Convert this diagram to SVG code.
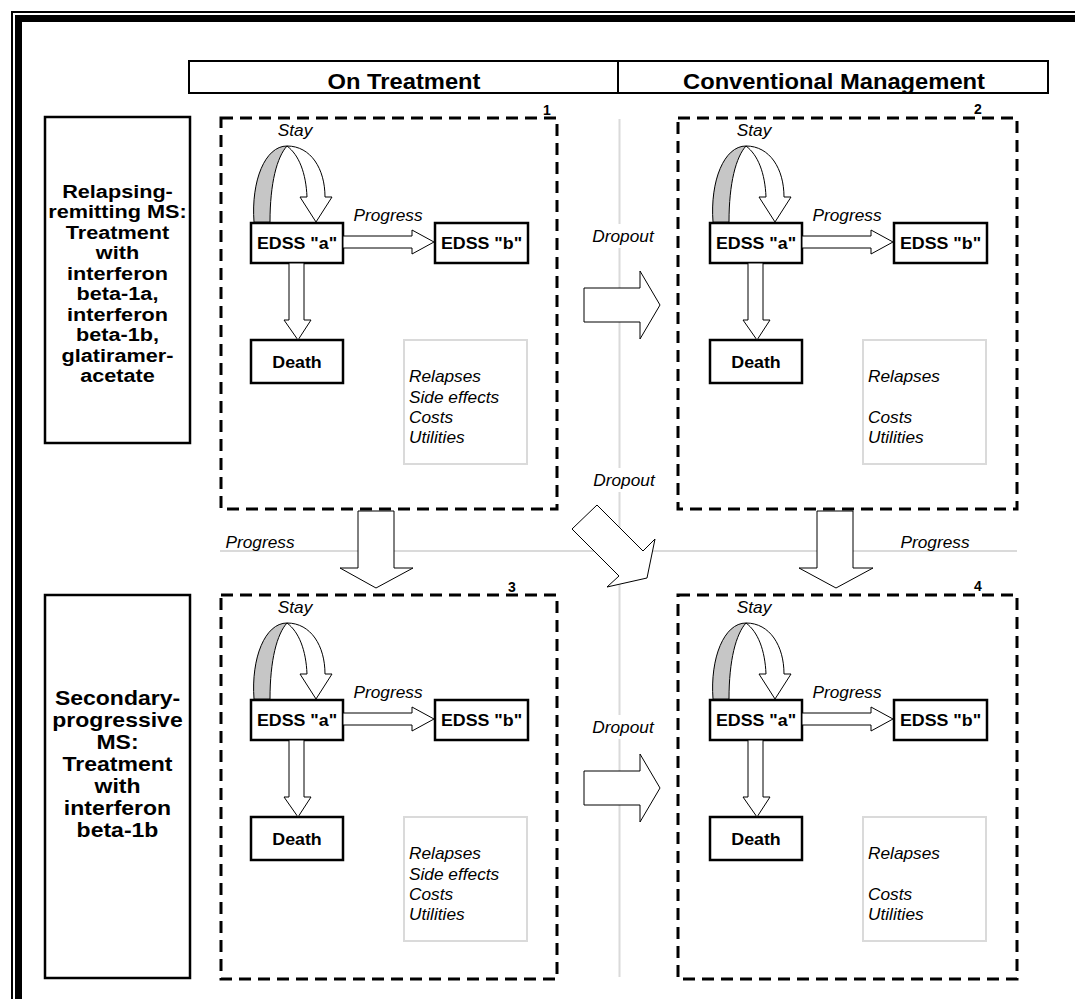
<svg xmlns="http://www.w3.org/2000/svg" xmlns:xlink="http://www.w3.org/1999/xlink" width="1075" height="999" viewBox="0 0 1075 999">
<style>
text{font-family:"Liberation Sans",Arial,sans-serif;fill:#000}
.hb{font-weight:bold;font-size:22px;text-anchor:middle}
.lb{font-weight:bold;font-size:19px;text-anchor:middle}
.lb2{font-weight:bold;font-size:20px;text-anchor:middle}
.nb{font-weight:bold;font-size:16.5px;text-anchor:middle}
.num{font-weight:bold;font-size:14px;text-anchor:middle}
.it{font-style:italic;font-size:16px}
.itm{font-style:italic;font-size:16px;text-anchor:middle}
.box{fill:#fff;stroke:#000;stroke-width:2.5}
.lbox{fill:#fff;stroke:#000;stroke-width:2.5}
.dash{fill:none;stroke:#000;stroke-width:3;stroke-dasharray:12 7}
.blk{fill:#fff;stroke:#000;stroke-width:1;stroke-linejoin:miter}
.gray{fill:#c6c6c6;stroke:#000;stroke-width:1}
.guide{fill:none;stroke:#dadada;stroke-width:2}
.info{fill:#fff;stroke:#dadada;stroke-width:2}
.frame{fill:none;stroke:#000}
</style>
<defs>
<g id="stayArrow">
<path class="gray" d="M3,-1 C0,-42 14,-77 36,-77 C26,-66 19,-40 19,-1 Z"/>
<path class="blk" d="M36,-77 C60,-77 74,-54 74,-26 L81,-26 L65,-1 L49,-26 L56,-26 C55,-50 48,-68 36,-77 Z"/>
</g>
<polygon id="progArrow" class="blk" points="92,13 161,13 161,7 183,19 161,31 161,25 92,25"/>
<polygon id="deathArrow" class="blk" points="38,40 53,40 53,97 60,97 47,117 33,97 38,97"/>
</defs>
<rect width="1075" height="999" fill="#fff"/>

<g id="frame">
<path class="frame" stroke-width="2" d="M12,999 V12 H1075"/>
<path class="frame" stroke-width="7" d="M18.5,999 V18.5 H1075"/>
</g>

<g id="header">
<rect x="189" y="61" width="859" height="32" fill="#fff" stroke="#000" stroke-width="2"/>
<line x1="618" y1="61" x2="618" y2="93" stroke="#000" stroke-width="2"/>
<text class="hb" transform="translate(404,89) scale(1.08,1)">On Treatment</text>
<text class="hb" transform="translate(834,89) scale(1.08,1)">Conventional Management</text>
</g>

<g id="label-rrms">
<rect class="lbox" x="45" y="117" width="145" height="326"/>
<text class="lb" transform="translate(117.5,198) scale(1.14,1)"><tspan x="0" y="0">Relapsing-</tspan><tspan x="0" dy="20.5">remitting MS:</tspan><tspan x="0" dy="20.5">Treatment</tspan><tspan x="0" dy="20.5">with</tspan><tspan x="0" dy="20.5">interferon</tspan><tspan x="0" dy="20.5">beta-1a,</tspan><tspan x="0" dy="20.5">interferon</tspan><tspan x="0" dy="20.5">beta-1b,</tspan><tspan x="0" dy="20.5">glatiramer-</tspan><tspan x="0" dy="20.5">acetate</tspan></text>
</g>

<g id="label-spms">
<rect class="lbox" x="45" y="595" width="145" height="383"/>
<text class="lb2" transform="translate(117.5,705) scale(1.15,1)"><tspan x="0" y="0">Secondary-</tspan><tspan x="0" dy="22">progressive</tspan><tspan x="0" dy="22">MS:</tspan><tspan x="0" dy="22">Treatment</tspan><tspan x="0" dy="22">with</tspan><tspan x="0" dy="22">interferon</tspan><tspan x="0" dy="22">beta-1b</tspan></text>
</g>

<g id="panel1" transform="translate(251,223)">
<rect class="dash" x="-30" y="-105" width="336" height="391"/>
<text class="num" x="296" y="-108">1</text>
<g id="p1-edssA"><rect class="box" x="0" y="0" width="92" height="40"/><text class="nb" transform="translate(46,26) scale(1.08,1)">EDSS "a"</text></g>
<g id="p1-edssB"><rect class="box" x="184" y="0" width="93" height="40"/><text class="nb" transform="translate(230.5,26) scale(1.08,1)">EDSS "b"</text></g>
<g id="p1-death"><rect class="box" x="0" y="117" width="92" height="43"/><text class="nb" transform="translate(46,145) scale(1.08,1)">Death</text></g>
<g id="p1-info"><rect class="info" x="153" y="117" width="123" height="124"/>
<text class="it" transform="translate(158,159) scale(1.08,1)">Relapses</text>
<text class="it" transform="translate(158,180) scale(1.08,1)">Side effects</text>
<text class="it" transform="translate(158,200) scale(1.08,1)">Costs</text>
<text class="it" transform="translate(158,220) scale(1.08,1)">Utilities</text></g>
</g>

<g id="panel2" transform="translate(710,223)">
<rect class="dash" x="-32" y="-105" width="339" height="391"/>
<text class="num" x="268" y="-109">2</text>
<g id="p2-edssA"><rect class="box" x="0" y="0" width="92" height="40"/><text class="nb" transform="translate(46,26) scale(1.08,1)">EDSS "a"</text></g>
<g id="p2-edssB"><rect class="box" x="184" y="0" width="93" height="40"/><text class="nb" transform="translate(230.5,26) scale(1.08,1)">EDSS "b"</text></g>
<g id="p2-death"><rect class="box" x="0" y="117" width="92" height="43"/><text class="nb" transform="translate(46,145) scale(1.08,1)">Death</text></g>
<g id="p2-info"><rect class="info" x="153" y="117" width="123" height="124"/>
<text class="it" transform="translate(158,159) scale(1.08,1)">Relapses</text>
<text class="it" transform="translate(158,200) scale(1.08,1)">Costs</text>
<text class="it" transform="translate(158,220) scale(1.08,1)">Utilities</text></g>
</g>

<g id="panel3" transform="translate(251,700)">
<rect class="dash" x="-30" y="-105" width="336" height="384"/>
<text class="num" x="261" y="-108">3</text>
<g id="p3-edssA"><rect class="box" x="0" y="0" width="92" height="40"/><text class="nb" transform="translate(46,26) scale(1.08,1)">EDSS "a"</text></g>
<g id="p3-edssB"><rect class="box" x="184" y="0" width="93" height="40"/><text class="nb" transform="translate(230.5,26) scale(1.08,1)">EDSS "b"</text></g>
<g id="p3-death"><rect class="box" x="0" y="117" width="92" height="43"/><text class="nb" transform="translate(46,145) scale(1.08,1)">Death</text></g>
<g id="p3-info"><rect class="info" x="153" y="117" width="123" height="124"/>
<text class="it" transform="translate(158,159) scale(1.08,1)">Relapses</text>
<text class="it" transform="translate(158,180) scale(1.08,1)">Side effects</text>
<text class="it" transform="translate(158,200) scale(1.08,1)">Costs</text>
<text class="it" transform="translate(158,220) scale(1.08,1)">Utilities</text></g>
</g>

<g id="panel4" transform="translate(710,700)">
<rect class="dash" x="-32" y="-105" width="339" height="384"/>
<text class="num" x="268" y="-109">4</text>
<g id="p4-edssA"><rect class="box" x="0" y="0" width="92" height="40"/><text class="nb" transform="translate(46,26) scale(1.08,1)">EDSS "a"</text></g>
<g id="p4-edssB"><rect class="box" x="184" y="0" width="93" height="40"/><text class="nb" transform="translate(230.5,26) scale(1.08,1)">EDSS "b"</text></g>
<g id="p4-death"><rect class="box" x="0" y="117" width="92" height="43"/><text class="nb" transform="translate(46,145) scale(1.08,1)">Death</text></g>
<g id="p4-info"><rect class="info" x="153" y="117" width="123" height="124"/>
<text class="it" transform="translate(158,159) scale(1.08,1)">Relapses</text>
<text class="it" transform="translate(158,200) scale(1.08,1)">Costs</text>
<text class="it" transform="translate(158,220) scale(1.08,1)">Utilities</text></g>
</g>

<g id="guides">
<line class="guide" x1="619.5" y1="119" x2="619.5" y2="977"/>
<line class="guide" x1="220" y1="551" x2="1017" y2="551"/>
</g>

<g id="connectors">
<g transform="translate(251,223)">
<use xlink:href="#stayArrow"/><use xlink:href="#progArrow"/><use xlink:href="#deathArrow"/>
<text class="itm" transform="translate(44,-87) scale(1.08,1)">Stay</text>
<text class="itm" transform="translate(137,-2) scale(1.08,1)">Progress</text>
</g>
<g transform="translate(710,223)">
<use xlink:href="#stayArrow"/><use xlink:href="#progArrow"/><use xlink:href="#deathArrow"/>
<text class="itm" transform="translate(44,-87) scale(1.08,1)">Stay</text>
<text class="itm" transform="translate(137,-2) scale(1.08,1)">Progress</text>
</g>
<g transform="translate(251,700)">
<use xlink:href="#stayArrow"/><use xlink:href="#progArrow"/><use xlink:href="#deathArrow"/>
<text class="itm" transform="translate(44,-87) scale(1.08,1)">Stay</text>
<text class="itm" transform="translate(137,-2) scale(1.08,1)">Progress</text>
</g>
<g transform="translate(710,700)">
<use xlink:href="#stayArrow"/><use xlink:href="#progArrow"/><use xlink:href="#deathArrow"/>
<text class="itm" transform="translate(44,-87) scale(1.08,1)">Stay</text>
<text class="itm" transform="translate(137,-2) scale(1.08,1)">Progress</text>
</g>

<rect x="588" y="224" width="72" height="24" fill="#fff"/>
<text class="itm" transform="translate(623,242) scale(1.08,1)">Dropout</text>
<polygon class="blk" points="584,288 640,288 640,271 660,305 640,339 640,322 584,322"/>

<rect x="588" y="468" width="72" height="24" fill="#fff"/>
<text class="itm" transform="translate(624,486) scale(1.08,1)">Dropout</text>
<polygon class="blk" points="597,505 643,551 655,539 647,578 607,587 619,576 572,529"/>

<rect x="588" y="715" width="72" height="24" fill="#fff"/>
<text class="itm" transform="translate(623,733) scale(1.08,1)">Dropout</text>
<polygon class="blk" points="584,771 640,771 640,754 660,788 640,822 640,805 584,805"/>

<polygon class="blk" points="358,511 394,511 394,568 413,568 376,588 340,568 358,568"/>
<polygon class="blk" points="817,511 853,511 853,568 873,568 836,588 799,568 817,568"/>
<text class="itm" transform="translate(260,548) scale(1.08,1)">Progress</text>
<text class="itm" transform="translate(935,548) scale(1.08,1)">Progress</text>
</g>
</svg>
